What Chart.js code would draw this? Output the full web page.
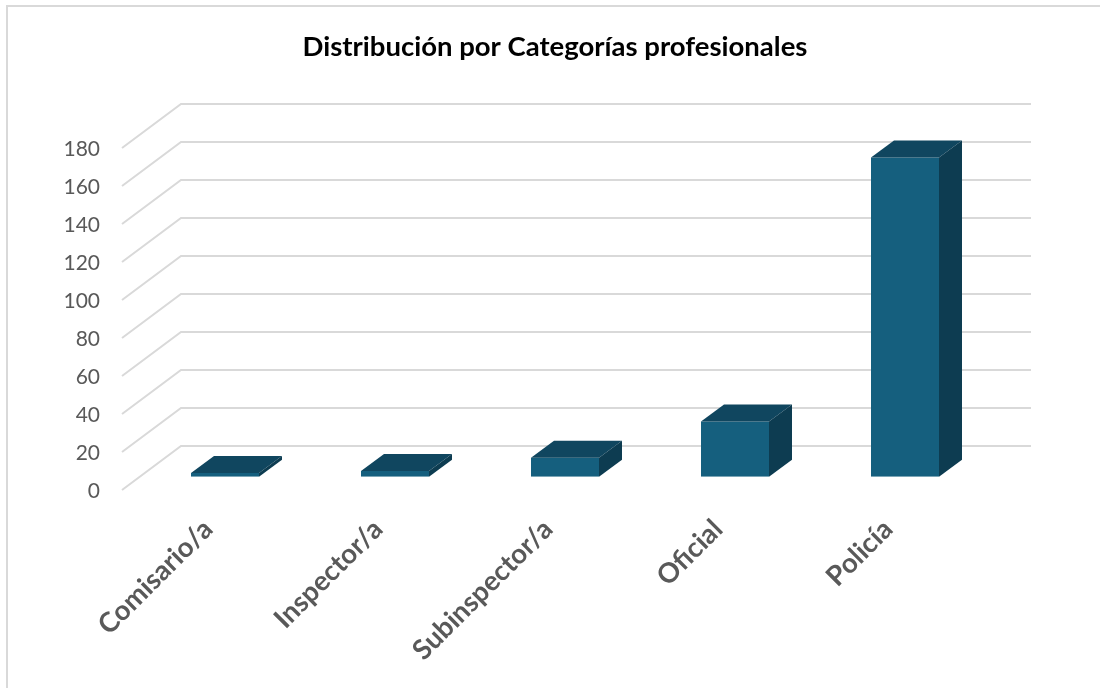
<!DOCTYPE html>
<html><head><meta charset="utf-8">
<style>html,body{margin:0;padding:0;background:#fff}#w{width:1100px;height:688px}</style>
<script src="https://cdn.jsdelivr.net/npm/chart.js@4"></script>
</head><body><div id="w"><canvas id="c" width="1100" height="688"></canvas></div>
<script>
const categories = ["Comisario/a","Inspector/a","Subinspector/a","Oficial","Policía"];
const values = [2,3,10,29,168];
const titleText = "Distribución por Categorías profesionales";
const FRONT='#155f7e', TOP='#10465f', SIDE='#0d3c51', GRID='#d9d9d9', TEXT='#595959';
const WALL={dx:59,dy:-44}, BAR_SHIFT={dx:18,dy:-13.3}, BAR_DEPTH={dx:23,dy:-17};

const frame3d={
  id:'frame3d',
  afterLayout(c){ c.titleBlock.left=10; c.titleBlock.right=1100; },
  beforeDatasetsDraw(c){
    const ctx=c.ctx,y=c.scales.y,a=c.chartArea;
    ctx.save();
    ctx.strokeStyle=GRID; ctx.lineWidth=2;
    ctx.beginPath();
    ctx.moveTo(7,688); ctx.lineTo(7,6); ctx.lineTo(1100,6);
    ctx.stroke();
    y.ticks.forEach(t=>{
      const p=y.getPixelForValue(t.value);
      ctx.beginPath();
      ctx.moveTo(a.left,p);
      ctx.lineTo(a.left+WALL.dx,p+WALL.dy);
      ctx.lineTo(a.right+WALL.dx,p+WALL.dy);
      ctx.stroke();
    });
    ctx.restore();
    ctx.save();
    ctx.translate(BAR_SHIFT.dx,BAR_SHIFT.dy);
  },
  afterDatasetsDraw(c){
    const ctx=c.ctx;
    c.getDatasetMeta(0).data.forEach(b=>{
      const l=b.x-b.width/2,r=b.x+b.width/2,t=b.y,bt=b.base,d=BAR_DEPTH;
      ctx.fillStyle=TOP;
      ctx.beginPath();ctx.moveTo(l,t);ctx.lineTo(l+d.dx,t+d.dy);ctx.lineTo(r+d.dx,t+d.dy);ctx.lineTo(r,t);ctx.closePath();ctx.fill();
      ctx.fillStyle=SIDE;
      ctx.beginPath();ctx.moveTo(r,t);ctx.lineTo(r+d.dx,t+d.dy);ctx.lineTo(r+d.dx,bt+d.dy);ctx.lineTo(r,bt);ctx.closePath();ctx.fill();
    });
    ctx.restore();
  }
};

new Chart(document.getElementById('c'),{
  type:'bar',
  data:{labels:categories,datasets:[{data:values,backgroundColor:FRONT,borderWidth:0,categoryPercentage:1,barPercentage:0.4}]},
  plugins:[frame3d],
  options:{
    responsive:false,animation:false,
    layout:{padding:{left:0,right:128,top:0,bottom:0}},
    plugins:{
      legend:{display:false},tooltip:{enabled:false},
      title:{display:true,text:titleText,color:'#000',font:{family:'Lato',size:27.5,weight:'bold'},padding:{top:31,bottom:84}}
    },
    scales:{
      x:{grid:{display:false,drawTicks:false},border:{display:false},
        afterFit(s){s.height=198;},
        ticks:{autoSkip:false,minRotation:45,maxRotation:45,padding:23,labelOffset:1,color:TEXT,font:{family:'Lato',size:27.5,weight:'bold'}}},
      y:{min:0,max:180,grid:{display:false,drawTicks:false},border:{display:false},
        afterFit(s){s.width=122;},
        ticks:{stepSize:20,padding:22,labelOffset:1.5,color:TEXT,font:{family:'Lato',size:21}}}
    }
  }
});
</script></body></html>
